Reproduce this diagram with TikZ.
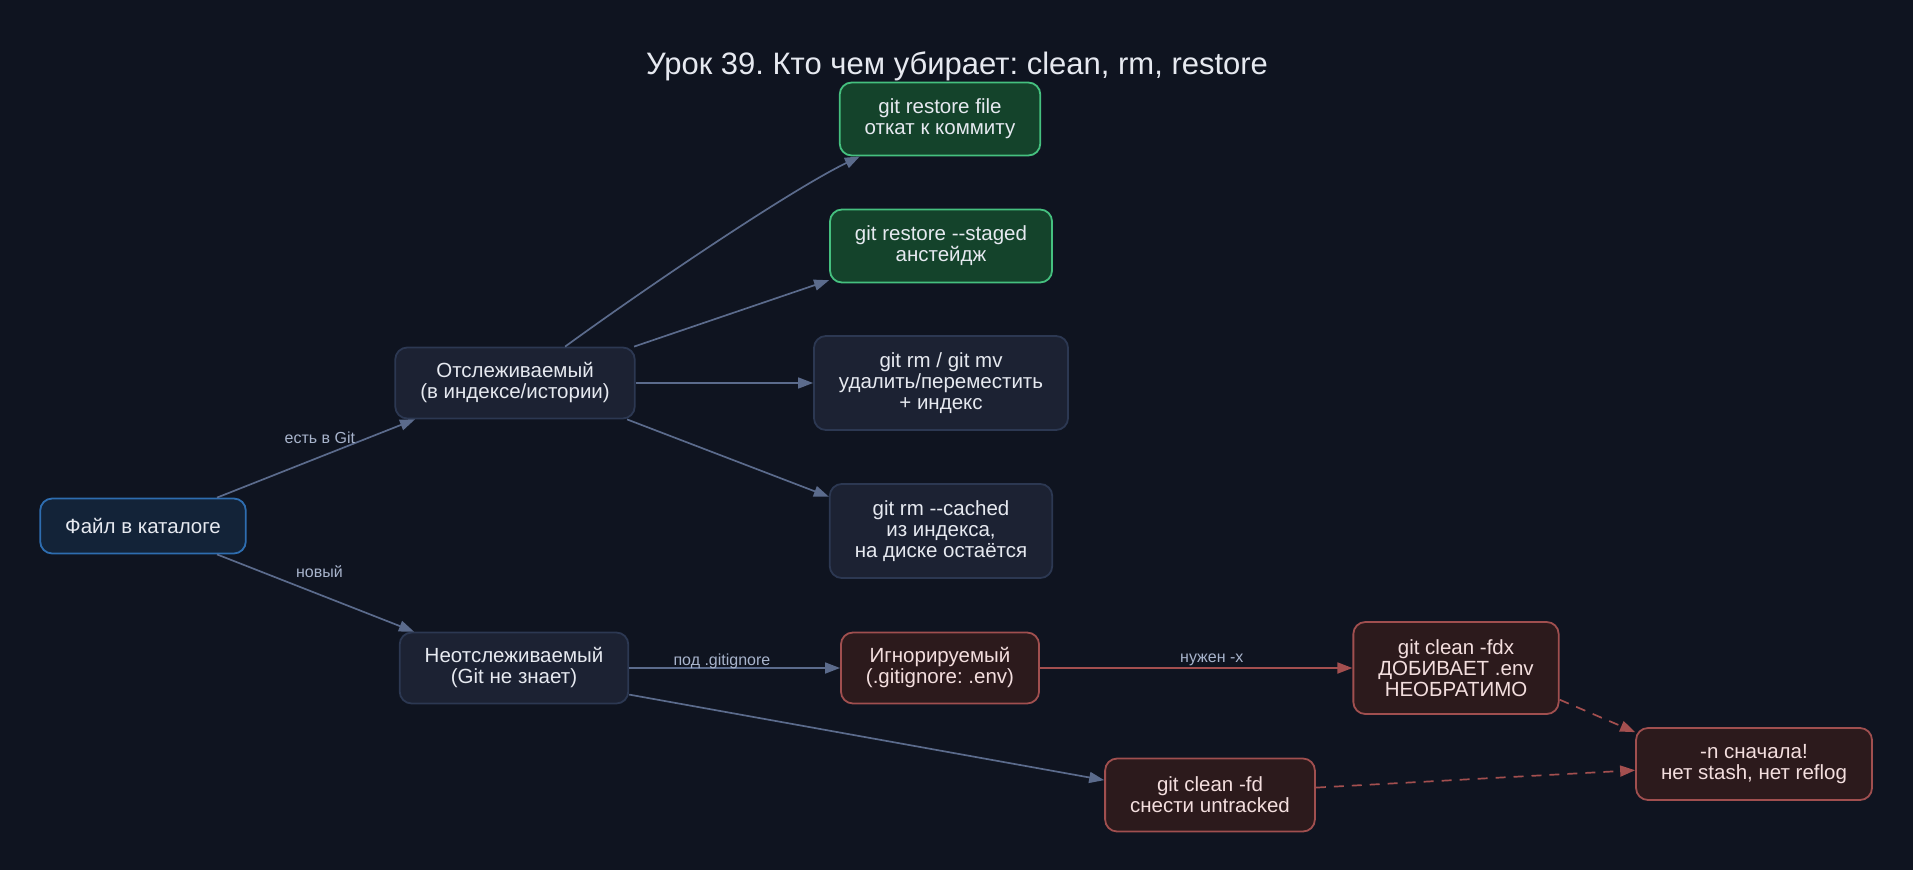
\documentclass[tikz,border=0pt]{standalone}
\usepackage{fontspec}
\setmainfont{Liberation Sans}
\usetikzlibrary{arrows.meta}
\frenchspacing

\definecolor{bgcol}{HTML}{0F1420}
\definecolor{edgecol}{HTML}{5B6B8C}
\definecolor{warncol}{HTML}{A34F4F}
\definecolor{lblcol}{HTML}{A8B4CC}
\definecolor{txtcol}{HTML}{E6E9F0}
\definecolor{warntxt}{HTML}{F3DEDE}
\definecolor{startfill}{HTML}{132338}
\definecolor{startdraw}{HTML}{2E6DB0}
\definecolor{safefill}{HTML}{14432B}
\definecolor{safedraw}{HTML}{45C07F}
\definecolor{plainfill}{HTML}{1C2233}
\definecolor{plaindraw}{HTML}{2C3852}
\definecolor{dangerfill}{HTML}{2C1A1C}
\definecolor{dangerdraw}{HTML}{A04F4F}

\begin{document}
\begin{tikzpicture}[x=1pt,y=-1pt,
  box/.style={draw, rounded corners=12pt, line width=1.8pt, align=center,
    inner xsep=25pt, inner ysep=0pt, text=txtcol,
    font=\fontsize{20.5}{21}\selectfont},
  startbox/.style={box, fill=startfill, draw=startdraw},
  safebox/.style={box, fill=safefill, draw=safedraw},
  plainbox/.style={box, fill=plainfill, draw=plaindraw},
  dangerbox/.style={box, fill=dangerfill, draw=dangerdraw, text=warntxt},
  link/.style={draw=edgecol, line width=1.7pt, -{Triangle[length=15pt,width=11pt]}},
  warnlink/.style={link, draw=warncol},
  lbl/.style={text=lblcol, font=\fontsize{16}{18}\selectfont, inner sep=0pt}]

\fill[bgcol] (0,0) rectangle (1913,870);
\useasboundingbox (0,0) rectangle (1913,870);

\node[text=txtcol, font=\fontsize{31}{34}\selectfont] (title) at (957,66) {Урок 39. Кто чем убирает: clean, rm, restore};

\node[startbox, minimum height=55pt] (file) at (143,526) {Файл в каталоге};

\node[plainbox, minimum height=71pt] (track) at (515,383) {Отслеживаемый\\(в индексе/истории)};
\node[plainbox, minimum height=71pt] (untrack) at (514,668) {Неотслеживаемый\\(Git не знает)};

\node[safebox, minimum height=73pt] (restore) at (940,119) {git restore file\\откат к коммиту};
\node[safebox, minimum height=73pt] (staged) at (941,246) {git restore -{}-staged\\анстейдж};
\node[plainbox, minimum height=94pt] (rmmv) at (941,383) {git rm / git mv\\удалить/переместить\\+ индекс};
\node[plainbox, minimum height=94pt] (cached) at (941,531) {git rm -{}-cached\\из индекса,\\на диске остаётся};

\node[dangerbox, minimum height=71pt] (ignored) at (940,668) {Игнорируемый\\(.gitignore: .env)};
\node[dangerbox, minimum height=73pt] (cleanfd) at (1210,795) {git clean -fd\\снести untracked};
\node[dangerbox, minimum height=92pt] (cleanfdx) at (1456,668) {git clean -fdx\\ДОБИВАЕТ .env\\НЕОБРАТИМО};
\node[dangerbox, minimum height=72pt] (dryrun) at (1754,764) {-n сначала!\\нет stash, нет reflog};

\draw[link] (file.21) -- (track.200) node[lbl, pos=0.52, yshift=19pt] {есть в Git};
\draw[link] (file.-21) -- (untrack.160) node[lbl, pos=0.52, yshift=23pt] {новый};

\draw[link] (track.36) .. controls +(74,-54) and +(-72,35) .. (restore.205);
\draw[link] (track.17) -- (staged.197);
\draw[link] (track.east) -- (rmmv.west);
\draw[link] (track.-18) -- (cached.163);

\draw[link] (untrack.east) -- (ignored.west) node[lbl, pos=0.44, yshift=7pt] {под .gitignore};
\draw[link] (untrack.-13) -- (cleanfd.172);

\draw[warnlink] (ignored.east) -- (cleanfdx.west) node[lbl, pos=0.55, yshift=8pt] {нужен -x};
\draw[warnlink, dash pattern=on 10pt off 8pt] (cleanfdx.-17) -- (dryrun.165);
\draw[warnlink, dash pattern=on 10pt off 8pt] (cleanfd.4) -- (dryrun.183);

\end{tikzpicture}
\end{document}
